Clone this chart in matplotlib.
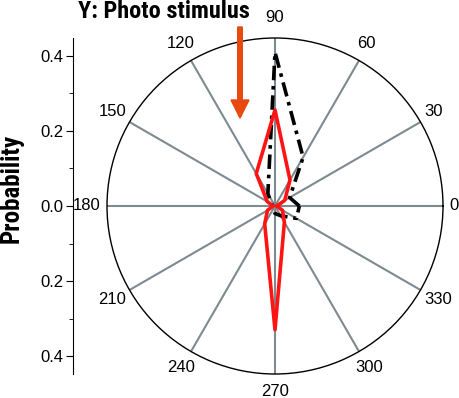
import numpy as np
import matplotlib.pyplot as plt
from matplotlib.patches import FancyArrow
from matplotlib.ticker import MultipleLocator, FuncFormatter

# bins every 30 degrees, probability per direction
angles_deg = [0, 30, 60, 90, 120, 150, 180, 210, 240, 270, 300, 330]
control_prob = [0.065, 0.045, 0.15, 0.41, 0.038, 0.01, 0.005, 0.005, 0.01, 0.02, 0.03, 0.066]
photo_prob = [0.005, 0.03, 0.08, 0.256, 0.10, 0.024, 0.005, 0.023, 0.055, 0.33, 0.05, 0.023]
theta_labels = ['0', '30', '60', '90', '120', '150', '180', '210', '240', '270', '300', '330']
r_ticks = [-0.4, -0.2, 0.0, 0.2, 0.4]

W, H = 459, 398
fig = plt.figure(figsize=(W / 100, H / 100), dpi=100)

cx, cy, R = 275, 206, 168
rect = [(cx - R) / W, (H - cy - R) / H, 2 * R / W, 2 * R / H]
rmax = 0.448

ax = fig.add_axes(rect, projection='polar')
th = np.deg2rad(angles_deg + [angles_deg[0]])
ax.plot(th, control_prob + [control_prob[0]], color='black', lw=2.6,
        linestyle=(0, (4, 1.6, 1, 1.6)), zorder=3)
ax.plot(th, photo_prob + [photo_prob[0]], color='#ff1414', lw=2.6, zorder=4)

ax.set_ylim(0, rmax)
ax.set_yticks([])
ax.set_xticks(np.deg2rad(angles_deg))
ax.set_xticklabels([])
ax.set_xticks(np.deg2rad(np.arange(15, 360, 30)), minor=True)
ax.xaxis.grid(True, color='#7d8a8f', lw=1.5)
ax.tick_params(axis='x', which='major', direction='inout', length=5, width=1)
ax.tick_params(axis='x', which='minor', direction='in', length=4, width=0.8)
ax.spines['polar'].set_linewidth(1.0)

# angle labels placed just outside the circle, pushed out by their own size
for a, lab in zip(angles_deg, theta_labels):
    c, s = np.cos(np.deg2rad(a)), np.sin(np.deg2rad(a))
    half_w = 4.3 * len(lab)
    dx = c * (7 + half_w)
    dy = s * (6 + (14 if s > 0 else 12))
    ax.annotate(lab, xy=(np.deg2rad(a), rmax), xytext=(dx, dy),
                textcoords='offset pixels', ha='center', va='center',
                fontsize=12, family='Liberation Sans', annotation_clip=False)

# left probability axis
ax2 = fig.add_axes([73 / W, rect[1], 0.001, rect[3]])
ax2.set_ylim(-rmax, rmax)
for sp in ['top', 'right', 'bottom']:
    ax2.spines[sp].set_visible(False)
ax2.set_xticks([])
ax2.set_yticks(r_ticks)
ax2.yaxis.set_minor_locator(MultipleLocator(0.1))
ax2.yaxis.set_major_formatter(FuncFormatter(lambda v, p: f'{abs(v):.1f}'))
ax2.tick_params(axis='y', which='major', length=5, pad=2, labelsize=12)
ax2.tick_params(axis='y', which='minor', length=3)
for t in ax2.get_yticklabels():
    t.set_family('Liberation Sans')
ax2.patch.set_visible(False)

cond = ['Roboto Condensed', 'Roboto', 'DejaVu Sans']
fig.text(78 / W, 1 - 11 / H, 'Y: Photo stimulus', fontsize=17.5, fontweight='bold',
         family=cond, ha='left', va='center')
fig.text(12 / W, 1 - 188 / H, 'Probability', fontsize=18, fontweight='bold',
         family=cond, ha='center', va='center', rotation=90)

# orange arrow marking the stimulus direction
fig.patches.append(FancyArrow(
    240 / W, 1 - 27 / H, 0, -(118 - 27) / H, width=4 / H, head_width=18 / W,
    head_length=18 / H, length_includes_head=True, color='#e8490f',
    transform=fig.transFigure, figure=fig))

fig.savefig('out.png', dpi=100)
